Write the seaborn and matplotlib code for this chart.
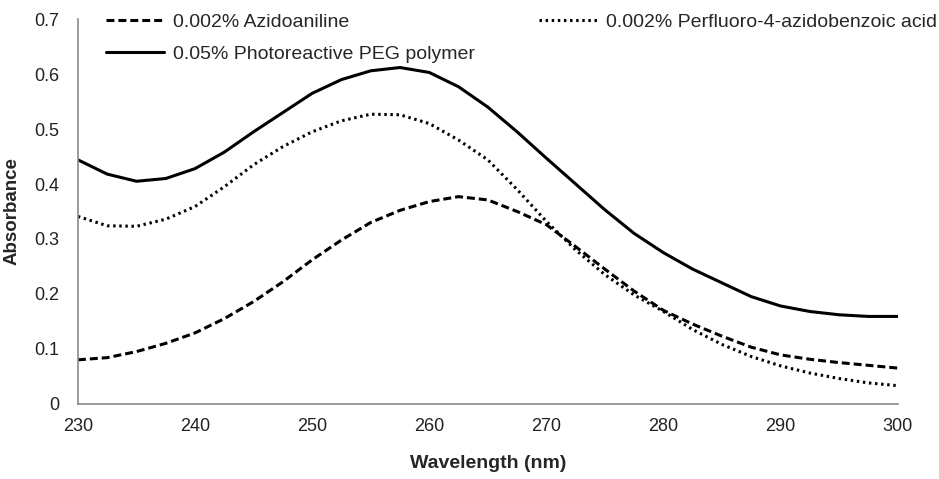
import pandas as pd
import matplotlib
matplotlib.use("Agg")
import matplotlib.pyplot as plt
import seaborn as sns

# wavelength grid (nm) and absorbance
wavelength = [230, 232.5, 235, 237.5, 240, 242.5, 245, 247.5, 250, 252.5,
              255, 257.5, 260, 262.5, 265, 267.5, 270, 272.5, 275, 277.5,
              280, 282.5, 285, 287.5, 290, 292.5, 295, 297.5, 300]

azidoaniline = [0.080, 0.084, 0.095, 0.110, 0.129, 0.155, 0.186, 0.222, 0.262, 0.298,
                0.330, 0.352, 0.368, 0.377, 0.371, 0.350, 0.326, 0.286, 0.245, 0.205,
                0.170, 0.145, 0.123, 0.103, 0.089, 0.081, 0.075, 0.070, 0.065]

peg_polymer = [0.444, 0.418, 0.405, 0.410, 0.428, 0.458, 0.495, 0.530, 0.565, 0.590,
               0.606, 0.612, 0.603, 0.577, 0.540, 0.495, 0.447, 0.400, 0.353, 0.310,
               0.275, 0.245, 0.220, 0.195, 0.178, 0.168, 0.162, 0.159, 0.159]

perfluoro = [0.341, 0.324, 0.323, 0.336, 0.359, 0.395, 0.435, 0.468, 0.495, 0.515,
             0.527, 0.526, 0.510, 0.480, 0.444, 0.390, 0.332, 0.280, 0.235, 0.198,
             0.168, 0.135, 0.108, 0.086, 0.069, 0.056, 0.046, 0.038, 0.033]

labels = ["0.002% Azidoaniline",
          "0.05% Photoreactive PEG polymer",
          "0.002% Perfluoro-4-azidobenzoic acid"]

df = pd.concat([
    pd.DataFrame({"wavelength": wavelength, "absorbance": azidoaniline, "sample": labels[0]}),
    pd.DataFrame({"wavelength": wavelength, "absorbance": peg_polymer, "sample": labels[1]}),
    pd.DataFrame({"wavelength": wavelength, "absorbance": perfluoro, "sample": labels[2]}),
])

sns.set_style("white")
plt.rcParams['font.family'] = ['Liberation Sans', 'DejaVu Sans']

fig = plt.figure(figsize=(9.39, 4.79), dpi=100)
ax = fig.add_axes([0.083, 0.157, 0.873, 0.803])

dash_map = {labels[0]: (2.6, 1.3), labels[1]: "", labels[2]: (0.8, 1.2)}
sns.lineplot(data=df, x="wavelength", y="absorbance", style="sample",
             style_order=labels, dashes=dash_map, color="black",
             linewidth=2.2, legend=False, ax=ax)

lines = ax.get_lines()
for ln in lines:
    ln.set_solid_joinstyle("round")
    ln.set_dash_joinstyle("round")

ax.set_xlim(230, 300)
ax.set_ylim(0, 0.7)
ax.set_xticks(range(230, 301, 10))
ax.set_yticks([0, 0.1, 0.2, 0.3, 0.4, 0.5, 0.6, 0.7])
ax.set_yticklabels(["0", "0.1", "0.2", "0.3", "0.4", "0.5", "0.6", "0.7"])

for s in ["top", "right"]:
    ax.spines[s].set_visible(False)
for s in ["left", "bottom"]:
    ax.spines[s].set_color("#8a8a8a")
    ax.spines[s].set_linewidth(1.2)
ax.tick_params(axis="both", direction="out", length=4.5, width=1.1,
               color="#8a8a8a", labelsize=13, labelcolor="#222222")
ax.tick_params(axis="x", pad=6)
ax.tick_params(axis="y", pad=9)

ax.set_xlabel("Wavelength (nm)", fontsize=14, fontweight="bold", labelpad=14)
ax.set_ylabel("Absorbance", fontsize=13.5, fontweight="bold", labelpad=10)

leg1 = ax.legend([lines[0], lines[1]], labels[:2], loc="upper left",
                 bbox_to_anchor=(0.113, 0.972), bbox_transform=fig.transFigure,
                 frameon=False, fontsize=14, handlelength=3.0, handletextpad=0.45,
                 labelspacing=0.75, borderpad=0, borderaxespad=0)
ax.add_artist(leg1)
ax.legend([lines[2]], [labels[2]], loc="upper right",
          bbox_to_anchor=(0.998, 0.972), bbox_transform=fig.transFigure,
          frameon=False, fontsize=14, handlelength=3.0, handletextpad=0.45,
          borderpad=0, borderaxespad=0)

fig.savefig("out.png", dpi=100)
